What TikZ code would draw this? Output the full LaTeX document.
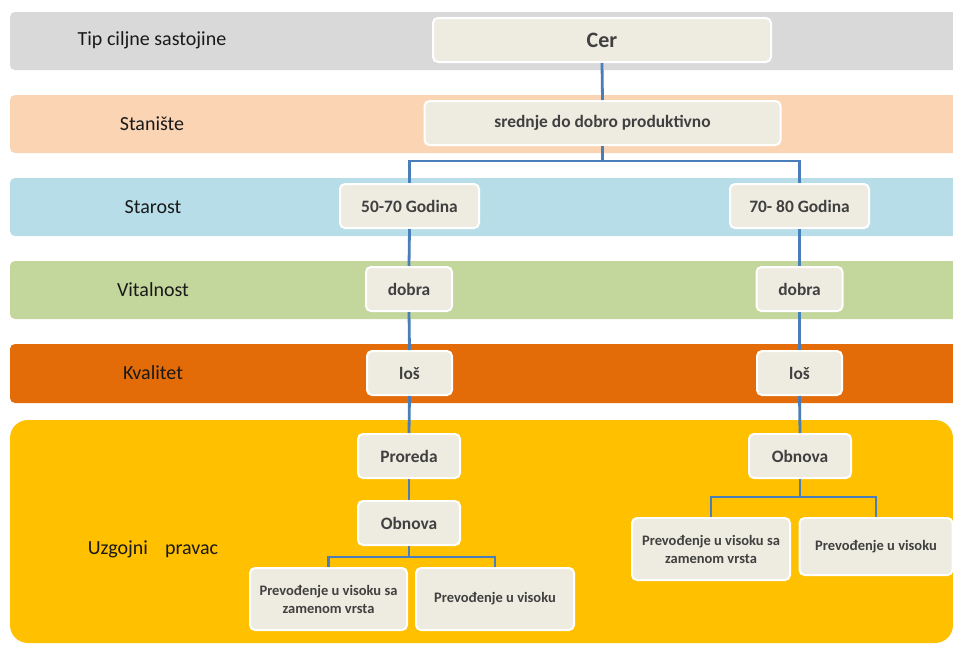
\documentclass[tikz,border=0pt]{standalone}
\usepackage{fontspec}
\setmainfont{Carlito}
\usepackage{tikz}

\definecolor{bandgray}{HTML}{D9D9D9}
\definecolor{bandpeach}{HTML}{FBD4B4}
\definecolor{bandblue}{HTML}{B7DEE8}
\definecolor{bandgreen}{HTML}{C3D69B}
\definecolor{bandorange}{HTML}{E36C09}
\definecolor{bandyellow}{HTML}{FFC000}
\definecolor{cellfill}{HTML}{EEECE1}
\definecolor{cellink}{HTML}{404040}
\definecolor{linkblue}{HTML}{4A7EBB}

\tikzset{
  band/.style={rounded corners=5pt},
  rowlabel/.style={font=\fontsize{20}{24}\selectfont, text=black!90},
  cell/.style={draw=white, line width=2pt, fill=cellfill, rounded corners=5pt,
    text=cellink, font=\fontsize{17.4}{20}\selectfont\bfseries,
    minimum height=44pt, inner sep=2pt, align=center},
  leaf/.style={cell, font=\fontsize{14.5}{18}\selectfont\bfseries, minimum height=62pt},
  link/.style={draw=linkblue, line width=2.8pt}
}

\begin{document}
\begin{tikzpicture}[x=1pt,y=-1pt]
  \clip (0,0) rectangle (953,645);
  \fill[white] (0,0) rectangle (953,645);

  % bands
  \fill[band, bandgray] (10,12) rectangle (970,70);
  \fill[band, bandpeach] (10,95) rectangle (970,153);
  \fill[band, bandblue] (10,178) rectangle (970,236);
  \fill[band, bandgreen] (10,261) rectangle (970,319);
  \fill[band, bandorange] (10,344) rectangle (970,403);
  \fill[rounded corners=18pt, bandyellow] (10,420) rectangle (953,643);

  % row labels
  \node[rowlabel] (ltip) at (152,40) {Tip ciljne sastojine};
  \node[rowlabel] (lstan) at (152,124) {Stanište};
  \node[rowlabel] (lstar) at (153,207) {Starost};
  \node[rowlabel] (lvit) at (153,290) {Vitalnost};
  \node[rowlabel] (lkval) at (153,373) {Kvalitet};
  \node[rowlabel] (luzg) at (153,549) {Uzgojni\hspace{0.85em}pravac};

  % tree
  \node[cell, minimum width=338pt, font=\fontsize{22}{26}\selectfont\bfseries] (cer) at (602,40) {Cer};
  \node[cell, minimum width=356pt] (sred) at (602.5,123) {srednje do dobro produktivno};
  \node[cell, minimum width=139pt] (god1) at (409.5,206) {50-70 Godina};
  \node[cell, minimum width=139pt] (god2) at (799.5,206) {70- 80 Godina};
  \node[cell, minimum width=86pt] (vit1) at (409,289) {dobra};
  \node[cell, minimum width=86pt] (vit2) at (799.5,289) {dobra};
  \node[cell, minimum width=85pt] (kv1) at (409.5,373) {loš};
  \node[cell, minimum width=85pt] (kv2) at (799.5,373) {loš};
  \node[cell, minimum width=102pt] (pror) at (409,456) {Proreda};
  \node[cell, minimum width=102pt] (obn1) at (409,523) {Obnova};
  \node[cell, minimum width=102pt] (obn2) at (800,456) {Obnova};
  \node[leaf, minimum width=157pt] (lz1) at (328.5,599) {Prevođenje u visoku sa\\zamenom vrsta};
  \node[leaf, minimum width=158pt] (lv1) at (495,599) {Prevođenje u visoku};
  \node[leaf, minimum width=158pt] (lz2) at (711,549) {Prevođenje u visoku sa\\zamenom vrsta};
  \node[leaf, minimum width=153pt, minimum height=57pt] (lv2) at (876,546.5) {Prevođenje u visoku};

  % connectors
  \draw[link] (cer.south) -- (sred.north);
  \draw[link] (sred.south) -- ++(0,15) -| (god1.north);
  \draw[link] (sred.south) -- ++(0,15) -| (god2.north);
  \draw[link] (god1.south) -- (vit1.north);
  \draw[link] (vit1.south) -- (kv1.north);
  \draw[link] (kv1.south) -- (pror.north);
  \draw[link] (pror.south) -- (obn1.north);
  \draw[link] (obn1.south) -- ++(0,11) -| (lz1.north);
  \draw[link] (obn1.south) -- ++(0,11) -| (lv1.north);
  \draw[link] (god2.south) -- (vit2.north);
  \draw[link] (vit2.south) -- (kv2.north);
  \draw[link] (kv2.south) -- (obn2.north);
  \draw[link] (obn2.south) -- ++(0,18) -| (lz2.north);
  \draw[link] (obn2.south) -- ++(0,18) -| (lv2.north);
\end{tikzpicture}
\end{document}
